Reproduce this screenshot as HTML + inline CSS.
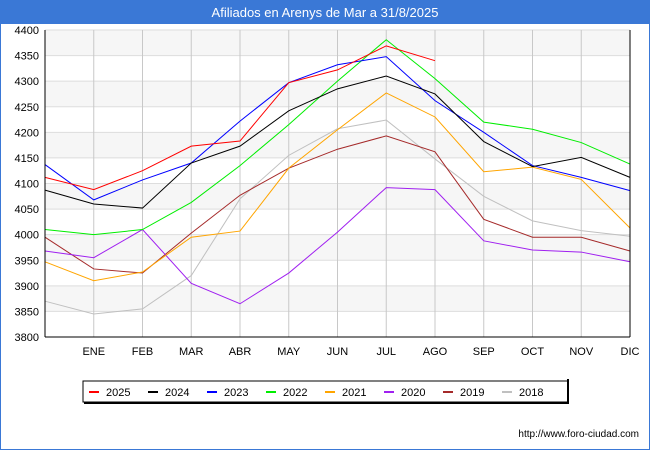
<!DOCTYPE html>
<html><head><meta charset="utf-8"><style>
body{margin:0;background:#fff;font-family:"Liberation Sans","DejaVu Sans",sans-serif}
</style></head><body>
<svg id="c" width="650" height="450" xmlns="http://www.w3.org/2000/svg">
<rect x="0" y="0" width="650" height="450" fill="#fff"/>
<rect x="0.5" y="0.5" width="649" height="449" fill="none" stroke="#3a78d6"/>
<rect x="0" y="0" width="650" height="24" fill="#3a78d6"/>
<text x="325" y="17" text-anchor="middle" font-size="13" fill="#fff">Afiliados en Arenys de Mar a 31/8/2025</text>
<g id="grid"></g>
<g id="lines"></g>
<line x1="45" y1="30" x2="45" y2="337" stroke="#000"/>
<line x1="45" y1="337" x2="630" y2="337" stroke="#000"/>
<line x1="630" y1="30" x2="630" y2="337" stroke="#000"/>
<g id="legend"></g>
<text x="639" y="437" text-anchor="end" font-size="10" fill="#000">http://www.foro-ciudad.com</text>
</svg>
<script>
const months=["","ENE","FEB","MAR","ABR","MAY","JUN","JUL","AGO","SEP","OCT","NOV","DIC"];
const yTicks=[3800,3850,3900,3950,4000,4050,4100,4150,4200,4250,4300,4350,4400];
const seriesNames=["2025","2024","2023","2022","2021","2020","2019","2018"];
const colors=["#ff0000","#000000","#0000ff","#00ee00","#ffa500","#a020f0","#a52a2a","#c0c0c0"];
const s2025=[4112,4088,4125,4173,4183,4297,4322,4369,4340];
const s2024=[4087,4060,4052,4140,4173,4242,4285,4310,4275,4182,4133,4151,4112];
const s2023=[4137,4068,4107,4140,4222,4297,4332,4348,4262,4200,4135,4112,4086];
const s2022=[4010,4000,4010,4063,4135,4215,4300,4381,4305,4220,4206,4180,4138];
const s2021=[3947,3910,3927,3995,4007,4130,4205,4277,4230,4123,4132,4108,4013];
const s2020=[3968,3955,4010,3905,3865,3925,4005,4092,4088,3988,3970,3966,3947];
const s2019=[3995,3933,3925,4003,4077,4130,4167,4193,4162,4030,3995,3995,3968];
const s2018=[3870,3845,3855,3920,4070,4155,4207,4224,4148,4075,4027,4008,3997];
const data=[s2025,s2024,s2023,s2022,s2021,s2020,s2019,s2018];
const NS="http://www.w3.org/2000/svg";
const X0=45,X1=630,Y0=337,Y1=30,VMIN=3800,VMAX=4400;
const x=i=>X0+i*(X1-X0)/12;
const y=v=>Y0-(v-VMIN)*(Y0-Y1)/(VMAX-VMIN);
function mk(t,a,p){const e=document.createElementNS(NS,t);for(const k in a)e.setAttribute(k,a[k]);p.appendChild(e);return e;}
const g=document.getElementById('grid');
for(let i=0;i<yTicks.length-1;i++){
  if(i%2==1){const r=mk('rect',{x:X0,y:y(yTicks[i+1]),width:X1-X0,height:y(yTicks[i])-y(yTicks[i+1]),fill:'#f6f6f6'},g);
  
  }
}
yTicks.forEach(v=>{
  const l=mk('line',{x1:X0,x2:X1,y1:y(v),y2:y(v),stroke:'#dddddd'},g);
  
  
  const t=mk('text',{x:39,y:y(v)+4,'text-anchor':'end','font-size':11},g);t.textContent=v;
  
  
});
months.forEach((m,i)=>{
  if(i>0){const l=mk('line',{x1:x(i),x2:x(i),y1:Y1,y2:Y0,stroke:'#c8c8c8'},g);
  
  }
  const t=mk('text',{x:x(i),y:355,'text-anchor':'middle','font-size':11},g);t.textContent=m;
  
  
});
const L=document.getElementById('lines');
for(let s=data.length-1;s>=0;s--){
  const p=mk('polyline',{points:data[s].map((v,i)=>x(i)+','+y(v)).join(' '),fill:'none',stroke:colors[s],'stroke-width':1},L);
  
  
}
const lg=document.getElementById('legend');
const box=mk('rect',{x:83,y:381,width:485,height:21,fill:'#fff',stroke:'#000'},lg);
mk('rect',{x:567,y:379,width:2,height:24,fill:'#000'},lg);
mk('rect',{x:84,y:402,width:485,height:2,fill:'#000'},lg);


const lx=[89,148,207,266,325,384,443,502];
seriesNames.forEach((n,i)=>{
  mk('line',{x1:lx[i],x2:lx[i]+10,y1:392,y2:392,stroke:colors[i],'stroke-width':2},lg);
  const t=mk('text',{x:lx[i]+17,y:396,'font-size':11},lg);t.textContent=n;
  
  
});
</script>
</body></html>
